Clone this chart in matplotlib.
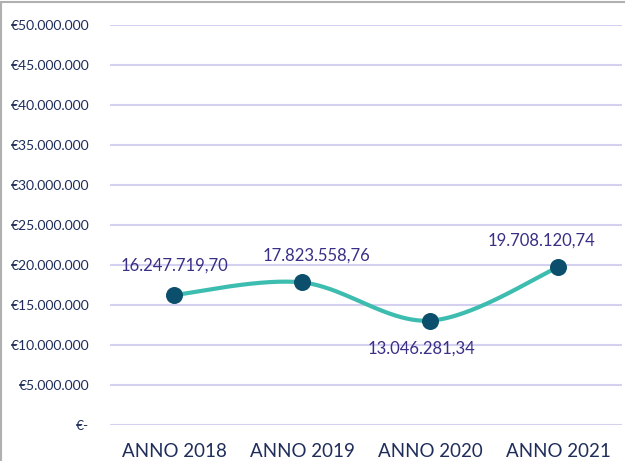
import matplotlib
matplotlib.use("Agg")
import matplotlib.pyplot as plt
import numpy as np
from matplotlib.patches import Rectangle

categories = ["ANNO 2018", "ANNO 2019", "ANNO 2020", "ANNO 2021"]
values = [16247719.70, 17823558.76, 13046281.34, 19708120.74]
value_labels = ["16.247.719,70", "17.823.558,76", "13.046.281,34", "19.708.120,74"]
y_ticks = [0, 5e6, 10e6, 15e6, 20e6, 25e6, 30e6, 35e6, 40e6, 45e6, 50e6]
y_tick_labels = ["€-", "€5.000.000", "€10.000.000", "€15.000.000", "€20.000.000",
                 "€25.000.000", "€30.000.000", "€35.000.000", "€40.000.000",
                 "€45.000.000", "€50.000.000"]

W, H = 625, 461
fig = plt.figure(figsize=(W / 100, H / 100), dpi=100)
fig.patch.set_facecolor("white")
ax = fig.add_axes([110 / W, 1 - 425 / H, 512 / W, 400 / H])

navy = "#1F2D5A"
label_col = "#3A2F86"
line_col = "#3CBDB0"
marker_col = "#0B4F6C"
grid_col = "#D3D0F0"

x = np.arange(len(values), dtype=float)
y = np.array(values)

# Excel-like smoothed line (Catmull-Rom Bezier)
px = np.concatenate([[x[0]], x, [x[-1]]])
py = np.concatenate([[y[0]], y, [y[-1]]])
t = np.linspace(0, 1, 60)
cx, cy = [], []
for i in range(len(x) - 1):
    p0 = np.array([px[i + 1], py[i + 1]])
    p3 = np.array([px[i + 2], py[i + 2]])
    p1 = p0 + (p3 - np.array([px[i], py[i]])) / 6
    p2 = p3 - (np.array([px[i + 3], py[i + 3]]) - p0) / 6
    b = ((1 - t) ** 3)[:, None] * p0 + (3 * (1 - t) ** 2 * t)[:, None] * p1 \
        + (3 * (1 - t) * t ** 2)[:, None] * p2 + (t ** 3)[:, None] * p3
    cx.extend(b[:, 0]); cy.extend(b[:, 1])

ax.plot(cx, cy, color=line_col, lw=3.0, solid_capstyle="round", zorder=3)
ax.scatter(x, y, s=150, color=marker_col, zorder=4, linewidths=0)

# data labels (pixel offsets)
offsets = [(0, 29), (14, 27), (-9, -28), (-17, 27)]
for xi, yi, lab, (dx, dy) in zip(x, y, value_labels, offsets):
    ax.annotate(lab, (xi, yi), xytext=(dx, dy), textcoords="offset pixels",
                ha="center", va="center", fontsize=12, color=label_col,
                family="Lato", zorder=5)

ax.set_xlim(-0.5, 3.5)
ax.set_ylim(0, 50e6)
ax.set_yticks(y_ticks)
ax.set_yticklabels(y_tick_labels, fontsize=10, color=navy, family="Lato")
ax.set_xticks(x)
ax.set_xticklabels(categories, fontsize=13.5, color=navy, family="Lato")
ax.tick_params(axis="both", length=0)
ax.tick_params(axis="y", pad=15)
ax.tick_params(axis="x", pad=13)
ax.grid(axis="y", color=grid_col, lw=1.5)
ax.set_axisbelow(True)
for s in ax.spines.values():
    s.set_visible(False)

# chart border
fig.patches.append(Rectangle((1.5 / W, -0.1), 1.2, 1 - 1.5 / H + 0.1,
                             transform=fig.transFigure, fill=False,
                             edgecolor="#B0B0B0", lw=1.5))

fig.savefig("out.png", dpi=100)
